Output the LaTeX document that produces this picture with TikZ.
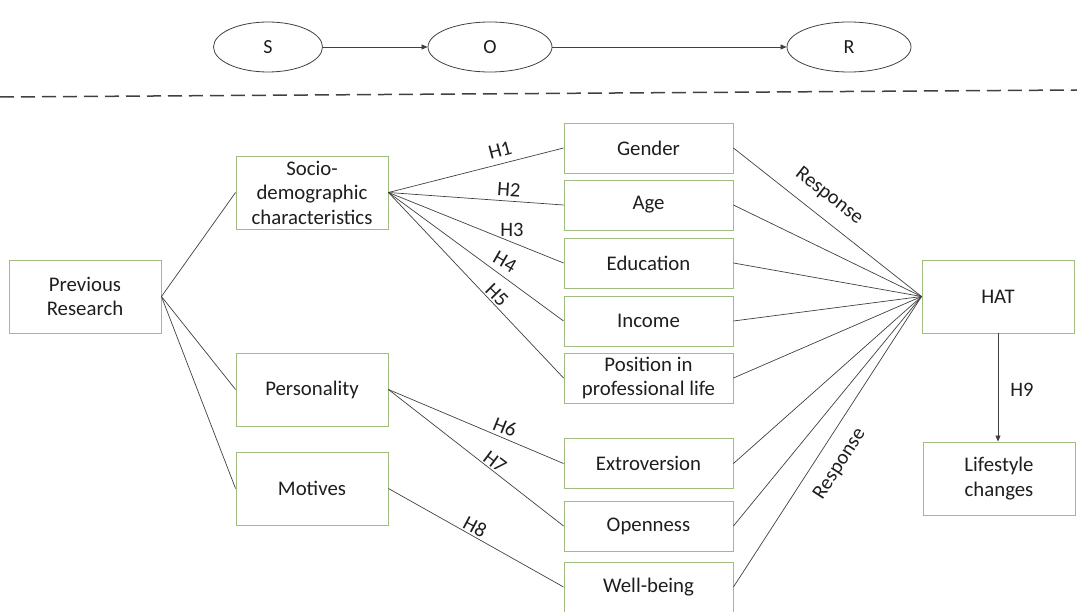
\documentclass[tikz,border=0pt]{standalone}
\usepackage{fontspec}
\setmainfont{Carlito}
\usetikzlibrary{arrows.meta,shapes.geometric}
\definecolor{boxgreen}{RGB}{160,188,128}
\definecolor{ln}{RGB}{64,64,64}
\definecolor{txt}{RGB}{30,30,30}
\begin{document}
\begin{tikzpicture}[x=1pt,y=-1pt,
  box/.style={draw=boxgreen,line width=0.9pt,align=center,inner sep=0pt,
    text=txt,font=\fontsize{20.8}{24.5}\selectfont},
  bigbox/.style={box,minimum width=152pt,minimum height=73pt},
  midbox/.style={box,minimum width=169pt,minimum height=50pt},
  oval/.style={draw=ln,line width=0.8pt,ellipse,minimum height=50pt,inner sep=0pt,
    text=txt,font=\fontsize{20}{22}\selectfont},
  conn/.style={draw=ln,line width=0.7pt},
  arr/.style={conn,-{Triangle[length=6pt,width=5pt]}},
  lab/.style={text=txt,font=\fontsize{20.5}{24}\selectfont,inner sep=0pt}]
\useasboundingbox (0,0) rectangle (1077,612);
% S-O-R
\node[oval,minimum width=109pt] (S) at (268,47) {S};
\node[oval,minimum width=124pt] (O) at (490,47) {O};
\node[oval,minimum width=124pt] (R) at (849,47) {R};
\draw[arr] (S) -- (O);
\draw[arr] (O) -- (R);
\coordinate (dl) at (0,97);
\coordinate (dr) at (1077,90);
\draw[ln,line width=1.5pt,dash pattern=on 14pt off 7pt] (dl) -- (dr);
% boxes
\node[bigbox] (prev) at (85,296.5) {Previous\\Research};
\node[bigbox] (socio) at (312,192.5) {Socio-\\demographic\\characteristics};
\node[bigbox] (pers) at (312,389.5) {Personality};
\node[bigbox] (mot) at (312,488.5) {Motives};
\node[midbox] (gender) at (648.5,148) {Gender};
\node[midbox] (age) at (648.5,205) {Age};
\node[midbox] (edu) at (648.5,263) {Education};
\node[midbox] (inc) at (648.5,321) {Income};
\node[midbox] (pos) at (648.5,378) {Position in\\professional life};
\node[midbox] (ext) at (648.5,463.5) {Extroversion};
\node[midbox] (open) at (648.5,526) {Openness};
\node[midbox] (well) at (648.5,587) {Well-being};
\node[bigbox] (hat) at (998,296.5) {HAT};
\node[bigbox] (life) at (999,478.5) {Lifestyle\\changes};
% left connectors
\foreach \t in {socio,pers,mot} \draw[conn] (prev.east) -- (\t.west);
\foreach \t in {gender,age,edu,inc,pos} \draw[conn] (socio.east) -- (\t.west);
\draw[conn] (pers.east) -- (ext.west);
\draw[conn] (pers.east) -- (open.west);
\draw[conn] (mot.east) -- (well.west);
% right connectors
\foreach \t in {gender,age,edu,inc,pos,ext,open,well} \draw[conn] (\t.east) -- (hat.west);
\draw[arr] (hat.south) -- (hat.south |- life.north);
% labels
\node[lab,rotate=15] (h1) at (500,150) {H1};
\node[lab,rotate=-4] (h2) at (509,190) {H2};
\node[lab] (h3) at (512,230) {H3};
\node[lab,rotate=-30] (h4) at (505,262) {H4};
\node[lab,rotate=-45] (h5) at (497,295) {H5};
\node[lab,rotate=-22] (h6) at (505,427) {H6};
\node[lab,rotate=-37] (h7) at (495,462) {H7};
\node[lab,rotate=-28] (h8) at (475,527) {H8};
\node[lab] (h9) at (1022,390) {H9};
\node[lab,rotate=-38] (r1) at (829,196) {Response};
\node[lab,rotate=57] (r2) at (840,464) {Response};
\end{tikzpicture}
\end{document}
